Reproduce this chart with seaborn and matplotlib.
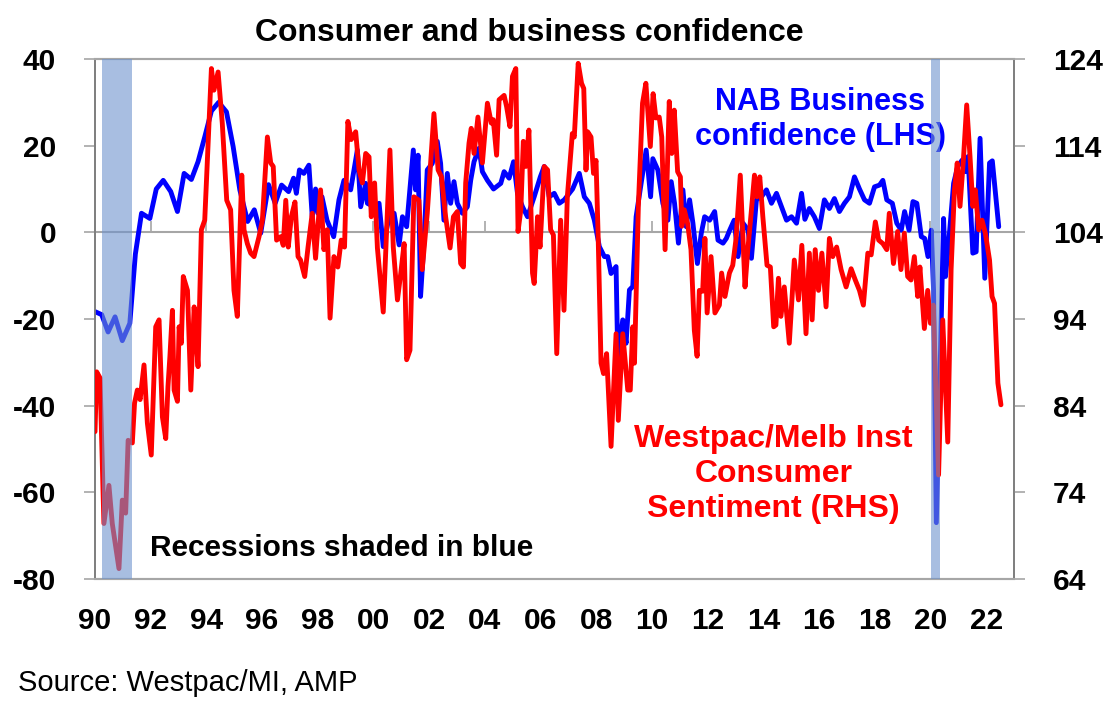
import matplotlib
matplotlib.use("Agg")
import matplotlib.pyplot as plt
import seaborn as sns
import numpy as np
import pandas as pd

# ---------------- data ----------------
nab_dates = [1990.00, 1990.24, 1990.47, 1990.72, 1990.98, 1991.25, 1991.45, 1991.67, 1991.97,
             1992.20, 1992.45, 1992.72, 1992.96, 1993.20, 1993.46, 1993.70, 1993.94, 1994.18,
             1994.44, 1994.72, 1994.96, 1995.20, 1995.48, 1995.72, 1995.95, 1996.23, 1996.47,
             1996.70, 1996.95, 1997.13, 1997.23, 1997.34, 1997.50, 1997.68, 1997.80, 1997.92,
             1998.00, 1998.15, 1998.33, 1998.57, 1998.76, 1998.94, 1999.18, 1999.42, 1999.54,
             1999.72, 1999.78, 2000.02, 2000.20, 2000.35, 2000.56, 2000.74, 2000.92, 2001.04,
             2001.19, 2001.43, 2001.51, 2001.60, 2001.69, 2001.81, 2001.93, 2002.11, 2002.29,
             2002.41, 2002.53, 2002.65, 2002.77, 2002.89, 2003.01, 2003.19, 2003.37, 2003.49,
             2003.61, 2003.79, 2003.91, 2004.09, 2004.31, 2004.57, 2004.69, 2004.87, 2005.03,
             2005.17, 2005.35, 2005.53, 2005.77, 2005.99, 2006.13, 2006.31, 2006.49, 2006.67,
             2006.85, 2007.15, 2007.39, 2007.57, 2007.75, 2007.93, 2008.11, 2008.29, 2008.41,
             2008.53, 2008.71, 2008.77, 2008.95, 2009.07, 2009.19, 2009.31, 2009.43, 2009.61,
             2009.79, 2009.95, 2010.03, 2010.21, 2010.39, 2010.57, 2010.69, 2010.81, 2010.95,
             2011.11, 2011.23, 2011.35, 2011.47, 2011.63, 2011.77, 2011.89, 2012.07, 2012.25,
             2012.37, 2012.55, 2012.67, 2012.79, 2012.95, 2013.09, 2013.27, 2013.45, 2013.57,
             2013.75, 2013.93, 2014.11, 2014.29, 2014.47, 2014.65, 2014.83, 2015.01, 2015.19,
             2015.37, 2015.49, 2015.65, 2015.83, 2016.01, 2016.19, 2016.37, 2016.55, 2016.73,
             2016.91, 2017.09, 2017.27, 2017.45, 2017.63, 2017.81, 2017.99, 2018.17, 2018.29,
             2018.43, 2018.63, 2018.79, 2018.95, 2019.07, 2019.23, 2019.37, 2019.51, 2019.67,
             2019.79, 2019.91, 2020.03, 2020.11, 2020.21, 2020.33, 2020.47, 2020.54, 2020.69,
             2020.83, 2020.98, 2021.14, 2021.26, 2021.35, 2021.52, 2021.64, 2021.78, 2021.95,
             2022.12, 2022.22, 2022.45]
nab_vals = [-18.3, -19.0, -23.0, -19.5, -25.0, -21.0, -5.0, 4.4, 3.2,
            10.0, 12.0, 9.4, 4.8, 13.6, 12.2, 16.3, 22.0, 28.0,
            30.0, 27.8, 19.8, 9.8, 2.5, 5.2, -0.2, 11.0, 6.7,
            10.9, 9.4, 12.5, 9.0, 14.4, 13.6, 15.5, 3.6, 10.0,
            4.4, 8.2, 2.8, -1.0, 7.5, 12.0, 9.8, 19.0, 5.9,
            11.3, 6.7, 5.9, 6.7, -3.3, 3.6, 4.4, -2.9, 3.6,
            1.3, 19.0, 9.8, 17.8, -14.8, -2.5, 14.4, 15.9, 21.0,
            15.9, 2.8, 13.6, 6.7, 11.7, 6.7, 4.4, 5.9, 12.0,
            16.3, 19.4, 14.0, 12.0, 10.0, 11.3, 14.0, 12.5, 16.3,
            9.0, 5.9, 3.6, 8.2, 12.8, 15.2, 8.2, 9.0, 6.7,
            7.5, 10.0, 13.6, 8.2, 6.7, 2.8, -3.3, -5.6, -5.6,
            -9.5, -7.9, -28.7, -20.2, -25.6, -13.3, -12.5, 3.6, 11.3,
            19.0, 8.2, 17.0, 14.4, 6.7, 2.8, 11.7, 6.7, -2.5,
            9.8, 1.3, 7.5, 2.1, -7.2, -0.2, 3.6, 2.8, 4.8,
            -1.8, -2.5, -1.4, 0.5, 2.8, -5.6, 2.1, 0.5, -6.0,
            7.5, 8.2, 9.8, 6.7, 9.0, 5.9, 2.8, 3.6, 2.1,
            9.0, 3.0, 5.5, 3.6, 0.9, 7.5, 5.5, 7.8, 4.8,
            6.7, 8.2, 12.8, 10.0, 7.5, 6.7, 10.5, 10.9, 12.0,
            7.5, 6.7, 2.1, 0.5, 4.8, 0.5, 7.1, 6.7, -1.0,
            -1.4, -5.6, 0.5, -13.3, -67.0, -36.0, 3.2, -10.2, 0.5,
            11.3, 15.2, 16.7, 14.0, 17.5, -4.8, -4.5, 21.7, -10.6,
            16.0, 16.5, 1.3]

wmi_dates = [1990.00, 1990.06, 1990.18, 1990.32, 1990.50, 1990.62, 1990.86, 1990.98, 1991.10,
             1991.19, 1991.34, 1991.42, 1991.52, 1991.62, 1991.76, 1991.88, 1992.02, 1992.18,
             1992.30, 1992.42, 1992.54, 1992.62, 1992.69, 1992.78, 1992.84, 1992.96, 1993.02,
             1993.10, 1993.17, 1993.32, 1993.44, 1993.56, 1993.62, 1993.70, 1993.82, 1993.94,
             1994.18, 1994.27, 1994.42, 1994.57, 1994.73, 1994.87, 1994.99, 1995.11, 1995.27,
             1995.35, 1995.47, 1995.59, 1995.71, 1995.89, 1996.01, 1996.19, 1996.31, 1996.40,
             1996.52, 1996.67, 1996.76, 1996.85, 1996.94, 1997.05, 1997.18, 1997.29, 1997.38,
             1997.53, 1997.65, 1997.80, 1997.92, 1998.10, 1998.22, 1998.34, 1998.44, 1998.58,
             1998.72, 1998.84, 1998.96, 1999.08, 1999.20, 1999.36, 1999.48, 1999.60, 1999.72,
             1999.84, 1999.92, 2000.04, 2000.14, 2000.35, 2000.59, 2000.71, 2000.86, 2000.98,
             2001.10, 2001.19, 2001.31, 2001.45, 2001.63, 2001.75, 2001.93, 2002.17, 2002.32,
             2002.44, 2002.59, 2002.75, 2002.87, 2003.01, 2003.13, 2003.23, 2003.31, 2003.43,
             2003.51, 2003.61, 2003.75, 2003.91, 2004.09, 2004.23, 2004.30, 2004.42, 2004.51,
             2004.69, 2004.78, 2004.90, 2004.99, 2005.11, 2005.19, 2005.29, 2005.38, 2005.47,
             2005.58, 2005.71, 2005.77, 2005.89, 2005.98, 2006.13, 2006.25, 2006.36, 2006.46,
             2006.58, 2006.72, 2006.84, 2006.96, 2007.14, 2007.21, 2007.35, 2007.47, 2007.55,
             2007.63, 2007.69, 2007.81, 2007.90, 2007.99, 2008.07, 2008.17, 2008.26, 2008.37,
             2008.53, 2008.71, 2008.79, 2008.95, 2009.13, 2009.22, 2009.31, 2009.37, 2009.51,
             2009.66, 2009.78, 2009.94, 2010.04, 2010.14, 2010.26, 2010.35, 2010.47, 2010.62,
             2010.71, 2010.80, 2010.92, 2011.02, 2011.07, 2011.16, 2011.28, 2011.40, 2011.52,
             2011.62, 2011.70, 2011.82, 2011.90, 2011.98, 2012.12, 2012.26, 2012.42, 2012.50,
             2012.62, 2012.78, 2012.90, 2013.02, 2013.17, 2013.34, 2013.44, 2013.56, 2013.68,
             2013.77, 2013.87, 2013.98, 2014.13, 2014.25, 2014.37, 2014.45, 2014.54, 2014.63,
             2014.75, 2014.93, 2015.11, 2015.26, 2015.38, 2015.53, 2015.65, 2015.75, 2015.86,
             2015.98, 2016.10, 2016.25, 2016.37, 2016.49, 2016.63, 2016.79, 2016.97, 2017.15,
             2017.30, 2017.45, 2017.59, 2017.75, 2017.87, 2018.02, 2018.14, 2018.29, 2018.43,
             2018.52, 2018.67, 2018.82, 2018.94, 2019.06, 2019.18, 2019.30, 2019.42, 2019.54,
             2019.62, 2019.78, 2019.90, 2020.00, 2020.10, 2020.29, 2020.44, 2020.62, 2020.74,
             2020.86, 2020.96, 2021.06, 2021.18, 2021.30, 2021.42, 2021.52, 2021.61, 2021.73,
             2021.85, 2021.97, 2022.12, 2022.21, 2022.30, 2022.42, 2022.53]
wmi_vals = [81.0, 87.9, 87.2, 70.4, 74.8, 70.4, 65.2, 73.1, 71.6,
            80.0, 79.7, 84.3, 85.8, 84.7, 88.7, 82.0, 78.3, 93.1,
            93.9, 82.7, 80.2, 86.2, 89.7, 95.0, 85.8, 84.5, 93.1,
            91.2, 98.9, 97.3, 85.8, 95.4, 92.3, 88.5, 104.3, 105.4,
            122.9, 120.4, 122.5, 116.6, 107.7, 106.6, 97.3, 94.3, 110.6,
            104.3, 102.7, 101.6, 101.2, 103.5, 105.4, 115.0, 112.0, 111.6,
            103.1, 103.5, 102.5, 107.7, 102.3, 105.8, 107.5, 101.2, 100.8,
            98.9, 102.3, 106.2, 101.0, 108.9, 102.0, 104.3, 94.1, 101.2,
            100.0, 103.1, 102.3, 116.8, 114.7, 115.6, 111.2, 109.7, 113.1,
            112.7, 105.8, 109.7, 102.2, 94.8, 113.5, 102.3, 96.2, 99.3,
            102.7, 89.3, 90.4, 108.1, 107.7, 99.7, 106.2, 117.7, 111.2,
            110.4, 105.8, 102.2, 105.8, 106.4, 100.4, 100.0, 109.7, 114.3,
            116.0, 113.1, 117.3, 112.0, 118.9, 116.6, 117.0, 112.9, 119.3,
            119.8, 118.5, 116.2, 122.0, 122.9, 104.1, 106.6, 114.5, 111.6,
            115.8, 99.3, 98.1, 105.8, 102.3, 111.6, 111.2, 104.3, 103.7,
            90.0, 105.4, 95.0, 108.1, 115.4, 115.0, 123.5, 121.2, 120.6,
            111.2, 115.6, 115.0, 110.8, 112.3, 103.1, 88.9, 87.7, 90.0,
            79.3, 92.3, 82.3, 92.3, 85.8, 85.8, 93.1, 88.9, 107.0,
            118.9, 121.2, 113.9, 120.0, 117.2, 117.3, 115.0, 102.0, 119.1,
            113.1, 118.1, 111.0, 110.4, 104.7, 106.6, 105.0, 102.0, 92.7,
            89.7, 97.3, 97.2, 103.3, 94.7, 101.2, 94.7, 95.6, 99.3,
            96.6, 99.3, 100.2, 103.3, 110.6, 97.7, 102.0, 106.2, 110.6,
            108.1, 110.4, 105.8, 100.2, 100.0, 93.1, 93.3, 98.7, 94.3,
            97.7, 91.2, 100.8, 96.2, 102.5, 92.3, 101.6, 93.9, 102.0,
            97.3, 101.6, 95.4, 103.3, 101.2, 102.3, 99.7, 97.7, 99.8,
            98.5, 97.3, 95.6, 101.6, 101.4, 105.2, 103.1, 102.7, 102.0,
            106.2, 100.4, 104.1, 99.7, 103.9, 98.9, 98.5, 101.2, 96.6,
            100.0, 92.9, 97.3, 93.5, 95.6, 76.0, 93.9, 79.8, 99.7,
            108.9, 112.0, 107.0, 112.3, 118.7, 112.7, 107.0, 108.9, 104.3,
            105.4, 103.9, 100.8, 96.6, 95.8, 86.6, 84.1]

recession_starts = [1990.25, 2020.03]
recession_ends = [1991.34, 2020.35]

x_ticks = list(range(1990, 2023, 2))
x_tick_labels = ["90", "92", "94", "96", "98", "00", "02", "04", "06", "08",
                 "10", "12", "14", "16", "18", "20", "22"]
left_ticks = [-80, -60, -40, -20, 0, 20, 40]
right_ticks = [64, 74, 84, 94, 104, 114, 124]

nab = pd.DataFrame({"date": nab_dates, "value": nab_vals})
wmi = pd.DataFrame({"date": wmi_dates, "value": wmi_vals})

# ---------------- style ----------------
sns.set_theme(style="white")
plt.rcParams["font.family"] = ["Liberation Sans", "DejaVu Sans"]
plt.rcParams["font.weight"] = "bold"
plt.rcParams["axes.unicode_minus"] = False

fig = plt.figure(figsize=(11.19, 7.24), dpi=100)
ax = fig.add_axes([0.0849, 0.2003, 0.9062 - 0.0849, 0.9185 - 0.2003])
ax2 = ax.twinx()

BLUE = "#0000FF"
RED = "#FF0000"
GRID = "#A6A6A6"
SPINE = "#7F7F7F"

ax.set_zorder(1)
ax2.set_zorder(2)
ax.patch.set_visible(False)
ax2.patch.set_visible(False)

ax.axhline(0, color=GRID, lw=1.5, zorder=1)
sns.lineplot(data=nab, x="date", y="value", ax=ax, color=BLUE, lw=3.5, zorder=3,
             sort=False, estimator=None)
sns.lineplot(data=wmi, x="date", y="value", ax=ax2, color=RED, lw=3.5, zorder=3,
             sort=False, estimator=None)

for s, e in zip(recession_starts, recession_ends):
    ax2.axvspan(s, e, color="#6E93CD", alpha=0.6, lw=0, zorder=5)

ax.set_xlim(1990, 2023)
ax.set_ylim(-80, 40)
ax2.set_ylim(64, 124)
ax.set_xlabel("")
ax.set_ylabel("")
ax2.set_ylabel("")

ax.set_xticks(x_ticks)
ax.set_xticklabels(x_tick_labels)
ax.set_yticks(left_ticks)
ax2.set_yticks(right_ticks)

ax.tick_params(axis="x", length=0, pad=20, labelsize=21.5, labelcolor="black")
ax.tick_params(axis="y", length=8, width=1.2, color=GRID, direction="out",
               pad=20, labelsize=21.5, labelcolor="black", left=True)
ax2.tick_params(axis="y", length=8, width=1.2, color=GRID, direction="out",
                pad=20, labelsize=21.5, labelcolor="black", right=True)
for lab in ax.get_xticklabels() + ax.get_yticklabels() + ax2.get_yticklabels():
    lab.set_fontweight("bold")

for a in (ax, ax2):
    a.spines["top"].set_color(GRID)
    a.spines["bottom"].set_color(GRID)
    a.spines["top"].set_linewidth(1.5)
    a.spines["bottom"].set_linewidth(1.5)
    a.spines["left"].set_color(SPINE)
    a.spines["right"].set_color(SPINE)
    a.spines["left"].set_linewidth(1.3)
    a.spines["right"].set_linewidth(1.3)

# tick marks along the zero line
zero_frac = (0 - ax.get_ylim()[0]) / (ax.get_ylim()[1] - ax.get_ylim()[0])
sec = ax.secondary_xaxis(zero_frac)
sec.set_xticks(x_ticks)
sec.tick_params(axis="x", direction="out", length=8, width=1.2, color=GRID,
                labelbottom=False, labeltop=False)
sec.spines["bottom"].set_visible(False)
sec.spines["top"].set_visible(False)

# annotations
ax.text(0.789, 0.884, "NAB Business\nconfidence (LHS)", transform=ax.transAxes,
        color=BLUE, fontsize=22, fontweight="bold", ha="center", va="center",
        linespacing=1.2, zorder=10)
ax.text(0.738, 0.202, "Westpac/Melb Inst\nConsumer\nSentiment (RHS)", transform=ax.transAxes,
        color=RED, fontsize=23, fontweight="bold", ha="center", va="center",
        linespacing=1.2, zorder=10)
ax2.text(0.0598, 0.0596, "Recessions shaded in blue", transform=ax.transAxes,
         color="black", fontsize=21.5, fontweight="bold", ha="left", va="center",
         zorder=10)

fig.text(529 / 1119, 1 - 33 / 724, "Consumer and business confidence", color="black",
         fontsize=23, fontweight="bold", ha="center", va="center")
fig.text(18 / 1119, 1 - 683 / 724, "Source: Westpac/MI, AMP", color="black",
         fontsize=21, fontweight="normal", ha="left", va="center")

fig.savefig("out.png", dpi=100)
